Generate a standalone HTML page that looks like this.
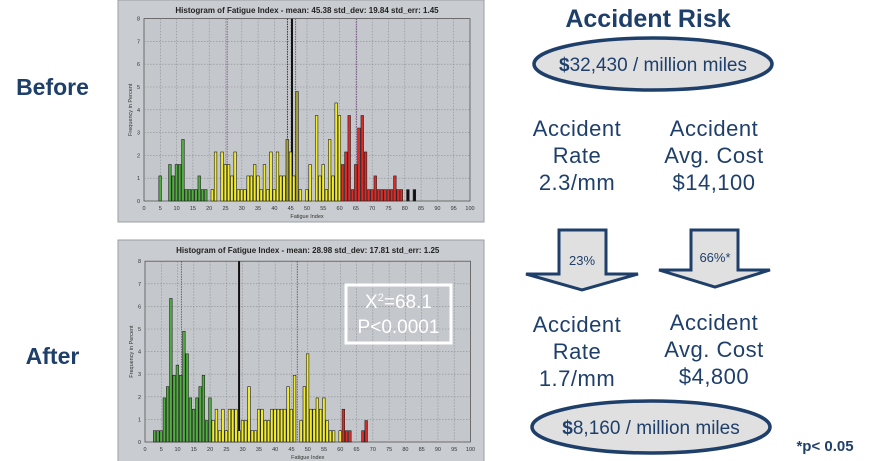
<!DOCTYPE html><html><head><meta charset="utf-8"><style>
body{margin:0;width:874px;height:461px;background:#fff;overflow:hidden;font-family:"Liberation Sans",sans-serif}
.t{position:absolute;color:#1f3f6b;text-align:center;white-space:nowrap}
.c{font-size:22px;line-height:27px;letter-spacing:0.5px}
</style></head><body>
<svg id="s" width="874" height="461" style="position:absolute;left:0;top:0" xmlns="http://www.w3.org/2000/svg" font-family="Liberation Sans, sans-serif"></svg>
<div class="t" style="left:0;width:105px;top:74px;font-size:23px;font-weight:bold">Before</div>
<div class="t" style="left:0;width:105px;top:343px;font-size:23px;font-weight:bold">After</div>
<div class="t" style="left:538px;width:220px;top:5px;font-size:25px;font-weight:bold">Accident Risk</div>
<div class="t c" style="left:502px;width:150px;top:115px">Accident<br>Rate<br>2.3/mm</div>
<div class="t c" style="left:639px;width:150px;top:115px">Accident<br>Avg. Cost<br>$14,100</div>
<div class="t c" style="left:502px;width:150px;top:311px">Accident<br>Rate<br>1.7/mm</div>
<div class="t c" style="left:639px;width:150px;top:309px">Accident<br>Avg. Cost<br>$4,800</div>
<div class="t" style="left:780px;width:90px;top:438px;font-size:15px;font-weight:bold">*p&lt; 0.05</div>
<script>
(function(){
const S=document.getElementById('s');let h='';
function chart(py,title,x0,xs,yb,ys,data,vl,olive){
 h+=`<rect x="118" y="${py}" width="366" height="222" fill="#c9ccd0" stroke="#9a9ea3"/>`;
 h+=`<rect x="${x0}" y="${yb-8*ys}" width="${100*xs}" height="${8*ys}" fill="#c4c7cb" stroke="#555" stroke-width="0.8"/>`;
 for(let i=5;i<100;i+=5)h+=`<line x1="${x0+i*xs}" x2="${x0+i*xs}" y1="${yb-8*ys}" y2="${yb}" stroke="#8a8d91" stroke-width="0.6" stroke-dasharray="1.5,1.5"/>`;
 for(let j=1;j<8;j++)h+=`<line x1="${x0}" x2="${x0+100*xs}" y1="${yb-j*ys}" y2="${yb-j*ys}" stroke="#8a8d91" stroke-width="0.6" stroke-dasharray="1.5,1.5"/>`;
 for(let i=0;i<=100;i+=5)h+=`<text x="${x0+i*xs}" y="${yb+9}" font-size="5.5" text-anchor="middle" fill="#333">${i}</text>`;
 for(let j=0;j<=8;j++)h+=`<text x="${x0-4}" y="${yb-j*ys+2}" font-size="5.5" text-anchor="end" fill="#333">${j}</text>`;
 h+=`<text x="${x0+50*xs}" y="${yb+17}" font-size="5.5" text-anchor="middle" fill="#333">Fatigue Index</text>`;
 h+=`<text x="${x0-12}" y="${yb-4*ys}" font-size="5.5" text-anchor="middle" fill="#333" transform="rotate(-90 ${x0-12} ${yb-4*ys})">Frequency in Percent</text>`;
 h+=`<text x="${x0+50*xs}" y="${py+13}" font-size="8" font-weight="bold" text-anchor="middle" fill="#222">${title}</text>`;
 for(const [v,c,w] of vl)h+=`<line x1="${x0+v*xs}" x2="${x0+v*xs}" y1="${yb-8*ys}" y2="${yb}" stroke="${c}" stroke-width="${w}" ${w<1.5?'stroke-dasharray="1.5,1"':''}/>`;
 for(const [i,v] of data){let c=i<=20?'#4fae3e':i<=60?'#f1ec2e':i<=80?'#e02a27':'#111';if(olive.includes(i))c='#a9a035';
  h+=`<rect x="${x0+(i-0.45)*xs}" y="${yb-v*ys}" width="${0.8*xs}" height="${v*ys}" fill="${c}" stroke="#222" stroke-width="0.6"/>`;}
}
const d1=[[5,1.1],[8,1.6],[9,1.1],[10,1.6],[11,1.6],[12,2.7],[13,.5],[14,.5],[15,.5],[16,.5],[17,1.1],[18,.5],[19,.5],[21,.5],[22,2.15],[24,2.15],[25,1.6],[26,1.6],[27,1.1],[28,2.15],[29,.5],[30,.5],[31,.5],[32,1.1],[33,1.1],[34,1.6],[35,1.1],[36,.5],[37,1.6],[38,.5],[39,2.15],[40,.5],[41,2.15],[42,1.1],[43,1.1],[44,2.7],[45,2.15],[46,1.1],[47,4.8],[48,.5],[50,.5],[51,1.6],[53,3.75],[54,1.1],[55,1.6],[56,.5],[57,2.7],[58,1.1],[59,4.3],[60,3.75],[61,1.6],[62,2.15],[63,3.75],[64,.5],[65,1.6],[66,3.2],[67,3.75],[68,2.15],[69,.5],[70,.5],[71,1.1],[72,.5],[73,.5],[74,.5],[75,.5],[76,.5],[77,1.1],[78,.5],[79,.5],[81,.5],[83,.5]];
chart(0,'Histogram of Fatigue Index - mean: 45.38 std_dev: 19.84 std_err: 1.45',144,3.26,201,22.8,d1,[[25.5,'#7a5a86',1],[44,'#333',1],[46.5,'#7a5a86',1],[65.2,'#7a5a86',1],[45.4,'#111',2]],[44,47]);
const d2=[[3,.5],[4,.5],[5,.5],[6,1.95],[7,2.45],[8,6.35],[9,2.95],[10,3.4],[11,2.95],[12,4.9],[13,3.9],[14,1.95],[15,1.45],[16,1.95],[17,2.45],[18,2.95],[19,.95],[20,1.95],[21,.95],[22,1.45],[23,.5],[24,1.45],[25,.5],[26,1.45],[27,1.45],[28,1.45],[29,.5],[30,.95],[31,.95],[32,2.45],[33,.5],[34,.5],[35,1.45],[36,1.45],[37,.95],[38,.95],[39,1.45],[40,1.45],[41,1.45],[42,1.45],[43,1.45],[44,2.45],[45,1.45],[46,2.95],[48,.95],[49,2.45],[50,3.9],[51,1.45],[52,1.45],[53,1.95],[54,1.45],[55,1.95],[56,.95],[57,.5],[58,.5],[60,.5],[61,1.45],[62,.5],[63,.5],[67,.5],[68,.95]];
chart(240,'Histogram of Fatigue Index - mean: 28.98 std_dev: 17.81 std_err: 1.25',145,3.255,442,22.6,d2,[[11.2,'#7a5a86',1],[28.9,'#111',2],[46.8,'#7a5a86',1]],[]);
h+=`<rect x="346" y="285" width="105" height="58" fill="none" stroke="#fff" stroke-width="3"/>`;
h+=`<text x="398.5" y="308" font-size="19" fill="#fff" text-anchor="middle">X<tspan font-size="11" dy="-7">2</tspan><tspan dy="7">=68.1</tspan></text>`;
h+=`<text x="398.5" y="333" font-size="19" fill="#fff" text-anchor="middle">P&lt;0.0001</text>`;
h+=`<ellipse cx="653" cy="64" rx="119" ry="26" fill="#e0e0e0" stroke="#1f3f6b" stroke-width="3.5"/>`;
h+=`<text x="653" y="71" font-size="19" fill="#1f3f6b" text-anchor="middle"><tspan font-weight="bold">$</tspan>32,430 / million miles</text>`;
h+=`<ellipse cx="651" cy="427" rx="119" ry="26" fill="#e0e0e0" stroke="#1f3f6b" stroke-width="3.5"/>`;
h+=`<text x="651" y="434" font-size="19" fill="#1f3f6b" text-anchor="middle"><tspan font-weight="bold">$</tspan>8,160 / million miles</text>`;
h+=`<polygon points="559,230 606,230 606,274 638,274 582,290 526,274 559,274" fill="#e0e0e0" stroke="#1f3f6b" stroke-width="3"/>`;
h+=`<text x="582" y="265" font-size="13" fill="#1f3f6b" text-anchor="middle">23%</text>`;
h+=`<polygon points="691,230 738,230 738,270 770,270 715,287 659,270 691,270" fill="#e0e0e0" stroke="#1f3f6b" stroke-width="3"/>`;
h+=`<text x="715" y="262" font-size="13" fill="#1f3f6b" text-anchor="middle">66%*</text>`;
S.innerHTML=h;
})();
</script>
</body></html>
